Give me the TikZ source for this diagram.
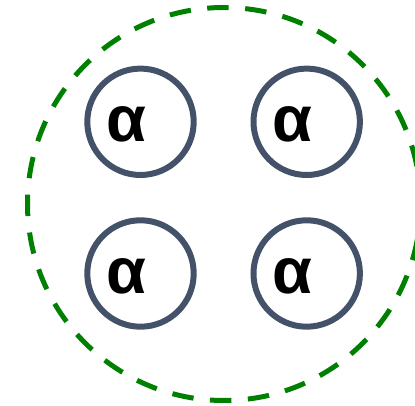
\documentclass[tikz,border=0pt]{standalone}
\usepackage{fontspec}
\setmainfont{Liberation Sans}
\definecolor{ringgreen}{HTML}{008000}
\definecolor{slate}{HTML}{445269}
\begin{document}
\begin{tikzpicture}[x=1pt,y=1pt,
  group/.style={draw=ringgreen,line width=5pt,dash pattern=on 21.5pt off 16.5pt},
  unit/.style={circle,draw=slate,line width=6pt,minimum size=106.4pt,inner sep=0pt},
  sym/.style={font=\fontsize{65}{65}\selectfont\bfseries,inner sep=0pt}]
\useasboundingbox (0,0) rectangle (415,406);
\draw[group] (224,202) circle[radius=196.5];
\node[unit] (c1) at (140.5,284.2) {};
\node[unit] (c2) at (306.7,284.2) {};
\node[unit] (c3) at (140.5,132.5) {};
\node[unit] (c4) at (306.7,132.5) {};
\node[sym] (a1) at (126,281.3) {α};
\node[sym] (a2) at (292.2,281.3) {α};
\node[sym] (a3) at (126,129.6) {α};
\node[sym] (a4) at (292.2,129.6) {α};
\end{tikzpicture}
\end{document}
